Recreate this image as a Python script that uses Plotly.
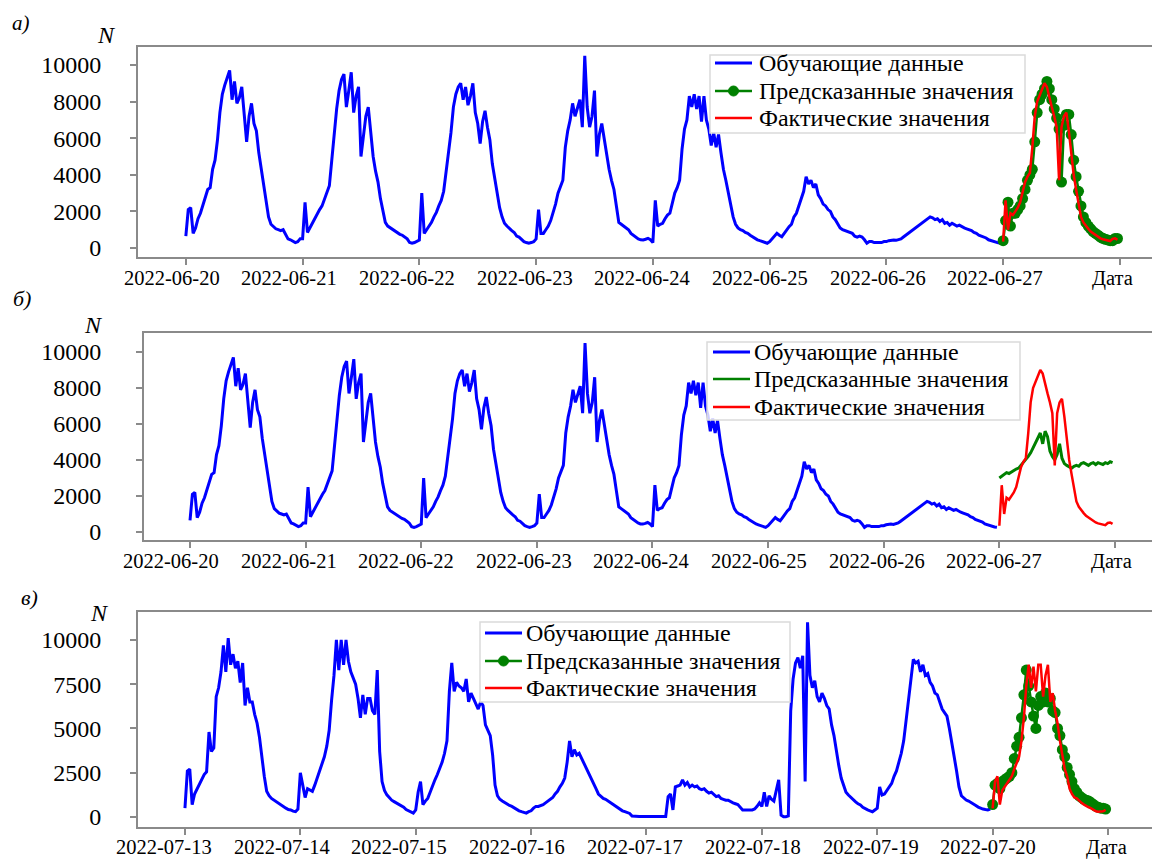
import pandas as pd
import plotly.graph_objects as go

# ---------------- data (30-min resolution) ----------------
# panels a and b: training 2022-06-20 .. 2022-06-26, test day 2022-06-27
d0620 = [650, 2100, 2200, 800, 1100, 1600, 1900, 2300, 2700, 3200, 3300, 4300, 4800, 5900, 7400, 8400,
         8900, 9300, 9700, 8100, 9100, 7900, 8200, 8800, 7200, 5800, 7200, 7900, 6800, 6400, 5200, 4300,
         3600, 2600, 1700, 1300, 1150, 1050, 1000, 950, 1000, 700, 500, 450, 350, 300, 350, 500]
d0621 = [500, 2500, 850, 1100, 1400, 1600, 1900, 2100, 2300, 2700, 3000, 3400, 4800, 6300, 7600, 8600,
         9200, 9500, 7700, 8600, 9600, 7400, 8300, 8800, 5000, 6100, 7200, 7700, 6300, 5000, 4200, 3600,
         2700, 2000, 1400, 1200, 1100, 1000, 900, 800, 750, 700, 620, 500, 300, 260, 300, 350]
d0622 = [440, 3000, 800, 1000, 1170, 1400, 1700, 1950, 2300, 2600, 3100, 4100, 5200, 6300, 7700, 8400,
         8800, 9000, 8100, 8800, 7800, 8300, 9000, 7400, 6800, 5700, 6900, 7500, 6600, 5900, 4600, 3800,
         2800, 2200, 1700, 1350, 1200, 1050, 950, 850, 650, 600, 480, 350, 300, 260, 300, 350]
d0623 = [500, 2100, 800, 800, 1000, 1200, 1500, 1900, 2400, 3000, 3400, 3700, 5500, 6400, 7000, 7900,
         7200, 7600, 8100, 6600, 10500, 7700, 6600, 7200, 8600, 5000, 6200, 6800, 5900, 5000, 4300, 3700,
         3200, 2300, 1400, 1300, 1200, 1150, 1000, 800, 700, 550, 500, 450, 440, 480, 530, 450]
d0624 = [300, 2600, 1200, 1300, 1350, 1600, 1800, 1900, 2500, 3000, 3300, 3700, 5400, 6500, 7000, 8300,
         7700, 8400, 7600, 8300, 6900, 8300, 7000, 6500, 5600, 6300, 5500, 6200, 5200, 4300, 3700, 3000,
         2500, 1700, 1300, 1100, 1000, 950, 850, 800, 700, 600, 520, 450, 400, 350, 300, 260]
d0625 = [350, 500, 700, 800, 700, 620, 800, 1000, 1170, 1300, 1700, 1900, 2300, 2700, 3100, 3900,
         3500, 3700, 3300, 3500, 2900, 2700, 2400, 2300, 2100, 2000, 1700, 1550, 1300, 1100, 1000, 950,
         900, 850, 800, 650, 600, 650, 600, 450, 260, 350, 350, 300, 300, 260, 300, 350]
d0626 = [350, 400, 440, 440, 420, 450, 500, 600, 700, 800, 900, 1000, 1100, 1200, 1260, 1400,
         1500, 1600, 1700, 1650, 1550, 1600, 1450, 1550, 1350, 1400, 1250, 1350, 1250, 1200, 1250, 1150,
         1100, 1050, 1000, 950, 850, 800, 700, 650, 600, 550, 450, 400, 350, 300, 280, 260]
actual_0627 = [350, 2600, 1000, 1900, 1800, 2000, 2200, 2500, 3100, 3600, 3900, 4100, 5500, 7200, 8000, 8300,
               8600, 9000, 8800, 8200, 7700, 7200, 6600, 3700, 6600, 7200, 7400, 6400, 5000, 4000, 3200, 2400,
               1700, 1400, 1200, 1050, 900, 800, 700, 600, 530, 480, 440, 400, 380, 500, 530, 450]
pred_a_0627 = [400, 1500, 2500, 1200, 1900, 1900, 2100, 2300, 2700, 3200, 3700, 4000, 4300, 5800, 7400, 8100,
               8400, 8700, 9100, 8700, 8100, 7600, 7100, 6500, 3600, 6700, 7300, 7300, 6200, 4800, 3900, 3100,
               2300, 1700, 1400, 1200, 1050, 900, 800, 700, 600, 530, 480, 440, 400, 400, 520, 520]
pred_b_0627 = [3000, 3100, 3200, 3300, 3250, 3350, 3400, 3500, 3550, 3700, 3850, 4000, 4200, 4400, 4700, 4900,
               5300, 5500, 4900, 5600, 5300, 4500, 4200, 4000, 4300, 4900, 4100, 3800, 3700, 3600, 3550, 3650,
               3700, 3650, 3800, 3850, 3750, 3700, 3800, 3850, 3750, 3850, 3800, 3750, 3850, 3800, 3900, 3850]

# panel c: training 2022-07-13 .. 2022-07-19, test day 2022-07-20
d0713 = [500, 2600, 2700, 700, 1300, 1600, 1850, 2100, 2400, 2550, 4800, 3700, 3900, 6800, 7300, 8200,
         9700, 8200, 10100, 8600, 9200, 8400, 8800, 7600, 8700, 6300, 7300, 6500, 6500, 5800, 5300, 4500,
         3300, 2300, 1450, 1200, 1050, 950, 870, 800, 700, 600, 500, 420, 400, 330, 300, 450]
d0714 = [2500, 1800, 1100, 1600, 1500, 1450, 1800, 2200, 2500, 2900, 3400, 4000, 4900, 6600, 8000, 10000,
         8300, 10000, 8600, 10000, 8800, 8200, 7800, 7500, 6700, 5600, 6900, 5800, 6700, 6700, 6000, 5800,
         8300, 3700, 2000, 1500, 1250, 1100, 950, 870, 800, 700, 650, 550, 420, 350, 250, 220]
d0715 = [400, 1400, 2000, 700, 900, 1050, 1400, 1800, 2100, 2400, 2700, 3100, 3600, 4300, 7100, 8700,
         7100, 7600, 7400, 7300, 7100, 7800, 6500, 7000, 6700, 6400, 6100, 6500, 6300, 5200, 4900, 4600,
         3500, 1800, 1200, 1000, 900, 800, 700, 650, 600, 500, 450, 350, 300, 250, 220, 300]
d0716 = [350, 500, 600, 600, 650, 700, 800, 900, 1000, 1100, 1300, 1450, 1700, 1900, 2200, 3100,
         4300, 3400, 3800, 3500, 3600, 3300, 3000, 2800, 2500, 2200, 1900, 1600, 1300, 1150, 1050, 1000,
         900, 800, 700, 650, 500, 400, 350, 300, 250, 200, 50, 30, 30, 30, 30, 30]
d0717 = [30, 30, 30, 30, 30, 30, 30, 30, 30, 1150, 1300, 400, 1700, 1750, 1800, 2100,
         1800, 1950, 1700, 1800, 1700, 1750, 1600, 1550, 1600, 1450, 1350, 1400, 1250, 1150, 1200, 1050,
         1000, 950, 950, 850, 800, 750, 700, 550, 400, 400, 380, 400, 400, 450, 600, 800]
d0718 = [600, 1400, 600, 1200, 1000, 900, 1500, 2100, 100, 20, 20, 60, 6000, 7800, 8700, 9000,
         8400, 9100, 2000, 11000, 8000, 7300, 7700, 6800, 6500, 7000, 6700, 6300, 6100, 5200, 4600, 3600,
         2900, 2200, 1800, 1400, 1240, 1100, 960, 850, 750, 680, 550, 450, 400, 350, 300, 400]
d0719 = [500, 1700, 1240, 1300, 1500, 1700, 1900, 2300, 2600, 3100, 3600, 4300, 5500, 6800, 7900, 8900,
         8700, 8800, 8200, 8600, 8000, 8100, 7600, 7400, 7000, 6900, 6500, 6100, 5900, 5700, 5000, 4300,
         3400, 2600, 1700, 1200, 1050, 960, 900, 800, 700, 650, 560, 490, 450, 420, 400, 450]
actual_0720 = [490, 2000, 2300, 700, 1500, 1700, 1900, 2100, 2300, 2700, 3000, 3400, 4300, 5600, 7400, 8600,
               7300, 8500, 7100, 8600, 8600, 6800, 8000, 8600, 6500, 7000, 6000, 5300, 4300, 3400, 2700, 2300,
               1600, 1300, 1100, 1050, 900, 800, 700, 600, 550, 490, 400, 320, 300, 300, 320, 400]
pred_c_0720 = [700, 1800, 1900, 1600, 2000, 2100, 2200, 2300, 2500, 3300, 4000, 4500, 5600, 6900, 8300, 7400,
               6500, 5700, 5000, 6300, 6800, 6500, 7000, 6500, 6700, 6000, 5900, 5000, 4600, 3800, 3400, 2800,
               2400, 2000, 1600, 1400, 1200, 1100, 1000, 950, 900, 800, 700, 600, 550, 500, 500, 450]

train_ab = d0620 + d0621 + d0622 + d0623 + d0624 + d0625 + d0626
train_c = d0713 + d0714 + d0715 + d0716 + d0717 + d0718 + d0719

t_train_ab = pd.date_range("2022-06-20 00:00", periods=len(train_ab), freq="30min")
t_test_ab = pd.date_range("2022-06-27 00:00", periods=len(actual_0627), freq="30min")
t_train_c = pd.date_range("2022-07-13 00:00", periods=len(train_c), freq="30min")
t_test_c = pd.date_range("2022-07-20 00:00", periods=len(actual_0720), freq="30min")

ticks_ab = ["2022-06-20", "2022-06-21", "2022-06-22", "2022-06-23", "2022-06-24",
            "2022-06-25", "2022-06-26", "2022-06-27", "2022-06-28"]
ticks_c = ["2022-07-13", "2022-07-14", "2022-07-15", "2022-07-16", "2022-07-17",
           "2022-07-18", "2022-07-19", "2022-07-20", "2022-07-21"]
ticktext_ab = ticks_ab[:-1] + ["Дата"]
ticktext_c = ticks_c[:-1] + ["Дата"]
yticks_ab = [0, 2000, 4000, 6000, 8000, 10000]
yticks_c = [0, 2500, 5000, 7500, 10000]

names = ["Обучающие данные", "Предсказанные значения", "Фактические значения"]

# ---------------- figure ----------------
# the page body has an 8px margin, so the figure is drawn at (8, 8) in the window
OFF = 8
W, H = 1160 - OFF, 861 - OFF
def PX(px):
    return (px - OFF) / W
def PY(py):
    return 1 - (py - OFF) / H

SERIF = "'Liberation Serif', 'Times New Roman', Times, serif"
BLUE, GREEN, RED = "#0000ff", "#008000", "#ff0000"

fig = go.Figure()

def add_panel(k, t_tr, y_tr, t_te, y_pred, y_act, pred_markers):
    xa = "x" if k == 1 else f"x{k}"
    ya = "y" if k == 1 else f"y{k}"
    fig.add_trace(go.Scatter(x=t_tr, y=y_tr, mode="lines", name=names[0],
                             line=dict(color=BLUE, width=3), xaxis=xa, yaxis=ya))
    if pred_markers:
        fig.add_trace(go.Scatter(x=t_te, y=y_pred, mode="lines+markers", name=names[1],
                                 line=dict(color=GREEN, width=2.5),
                                 marker=dict(color=GREEN, size=11),
                                 xaxis=xa, yaxis=ya))
    else:
        fig.add_trace(go.Scatter(x=t_te, y=y_pred, mode="lines", name=names[1],
                                 line=dict(color=GREEN, width=3), xaxis=xa, yaxis=ya))
    fig.add_trace(go.Scatter(x=t_te, y=y_act, mode="lines", name=names[2],
                             line=dict(color=RED, width=2.5), xaxis=xa, yaxis=ya))

add_panel(1, t_train_ab, train_ab, t_test_ab, pred_a_0627, actual_0627, True)
add_panel(2, t_train_ab, train_ab, t_test_ab, pred_b_0627, actual_0627, False)
add_panel(3, t_train_c, train_c, t_test_c, pred_c_0720, actual_0720, True)

FRAME = "#8a8a8a"
def xaxis(px0, px1, rng, tv, anchor):
    return dict(domain=[PX(px0), PX(px1)], range=rng, type="date", anchor=anchor,
                tickvals=tv, showticklabels=False, showline=True, mirror=True,
                linecolor=FRAME, linewidth=2, ticks="outside", ticklen=6, tickwidth=1.5,
                tickcolor=FRAME, showgrid=False, zeroline=False, automargin=False)

def yaxis(py_top, py_bot, rng, tv, anchor, standoff):
    return dict(domain=[PY(py_bot), PY(py_top)], range=rng, anchor=anchor,
                tickvals=tv, ticktext=[str(v) for v in tv], showline=True, mirror=True,
                linecolor=FRAME, linewidth=2, ticks="outside", ticklen=6, tickwidth=1.5,
                tickcolor=FRAME, showgrid=False, zeroline=False, ticklabelstandoff=standoff,
                automargin=False, tickfont=dict(family=SERIF, size=24, color="black"))

fig.update_layout(
    width=W, height=H, margin=dict(l=0, r=0, t=0, b=0),
    paper_bgcolor="white", plot_bgcolor="white",
    font=dict(family=SERIF, color="black"),
    showlegend=False,
    xaxis=xaxis(138, 1158, ["2022-06-19 14:10", "2022-06-28 07:50"], ticks_ab, "y"),
    yaxis=yaxis(47, 257, [-490, 10980], yticks_ab, "x", 24),
    xaxis2=xaxis(144, 1158, ["2022-06-19 14:27", "2022-06-28 08:56"], ticks_ab, "y2"),
    yaxis2=yaxis(333, 540, [-444, 11056], yticks_ab, "x2", 30),
    xaxis3=xaxis(138, 1152, ["2022-07-12 14:14", "2022-07-21 09:09"], ticks_c, "y3"),
    yaxis3=yaxis(612, 827, [-565, 11580], yticks_c, "x3", 24),
)

# ---- date labels under each panel (placed on the axis scale, nudged as in the source) ----
xlabel_sets = [("x", ticks_ab, ticktext_ab, 278, -14, -7),
               ("x2", ticks_ab, ticktext_ab, 561, -19, -3),
               ("x3", ticks_c, ticktext_c, 847, -21, -2)]
for xref, tv, tt, yc, off0, off1 in xlabel_sets:
    n = len(tv) - 1
    for i, (v, t) in enumerate(zip(tv, tt)):
        fig.add_annotation(text=t, x=v, xref=xref, y=PY(yc), yref="paper",
                           xshift=off0 + (off1 - off0) * i / n,
                           showarrow=False, xanchor="center", yanchor="middle",
                           font=dict(family=SERIF, size=20.5, color="black"))

# ---- legends (drawn as boxes, line samples and text, in window pixels) ----
legend_boxes = [  # box x0, y0, x1, y1, line x0, line x1, text x, row centres, markers?
    (710, 55, 1025, 133, 715, 752, 757, (63, 91, 118), True),
    (707, 342, 1020, 420, 713, 750, 752, (352, 379, 407), False),
    (480, 622, 790, 702, 485, 522, 524, (633, 661, 688), True),
]
colors = [BLUE, GREEN, RED]
shapes = []
for bx0, by0, bx1, by1, lx0, lx1, tx, rows, has_marker in legend_boxes:
    shapes.append(dict(type="rect", xref="paper", yref="paper", layer="above",
                       x0=PX(bx0), x1=PX(bx1), y0=PY(by1), y1=PY(by0),
                       line=dict(color="#dadada", width=1.5), fillcolor="rgba(255,255,255,0.8)"))
    for i, (name, col, ry) in enumerate(zip(names, colors, rows)):
        shapes.append(dict(type="line", xref="paper", yref="paper", layer="above",
                           x0=PX(lx0), x1=PX(lx1), y0=PY(ry), y1=PY(ry),
                           line=dict(color=col, width=3 if i == 0 else 2.5)))
        if i == 1 and has_marker:
            cx = (lx0 + lx1) / 2
            shapes.append(dict(type="circle", xref="paper", yref="paper", layer="above",
                               x0=PX(cx - 5), x1=PX(cx + 5), y0=PY(ry + 5), y1=PY(ry - 5),
                               line=dict(color=GREEN, width=1), fillcolor=GREEN))
        fig.add_annotation(text=name, x=PX(tx), y=PY(ry), xref="paper", yref="paper",
                           showarrow=False, xanchor="left", yanchor="middle",
                           font=dict(family=SERIF, size=24, color="black"))
fig.update_layout(shapes=shapes)

# ---- panel letters and axis name ----
labels = [("а)", 21, 9, 21, "top"), ("N", 106, 35, 24, "middle"),
          ("б)", 22, 298, 22, "middle"), ("N", 93, 325, 24, "middle"),
          ("в)", 29, 597, 22, "middle"), ("N", 99, 613, 24, "middle")]
for txt, px, py, sz, ya in labels:
    fig.add_annotation(text=f"<i>{txt}</i>", x=PX(px), y=PY(py), xref="paper", yref="paper",
                       showarrow=False, xanchor="center", yanchor=ya,
                       font=dict(family=SERIF, size=sz, color="black"))

fig.write_html("out.html")
